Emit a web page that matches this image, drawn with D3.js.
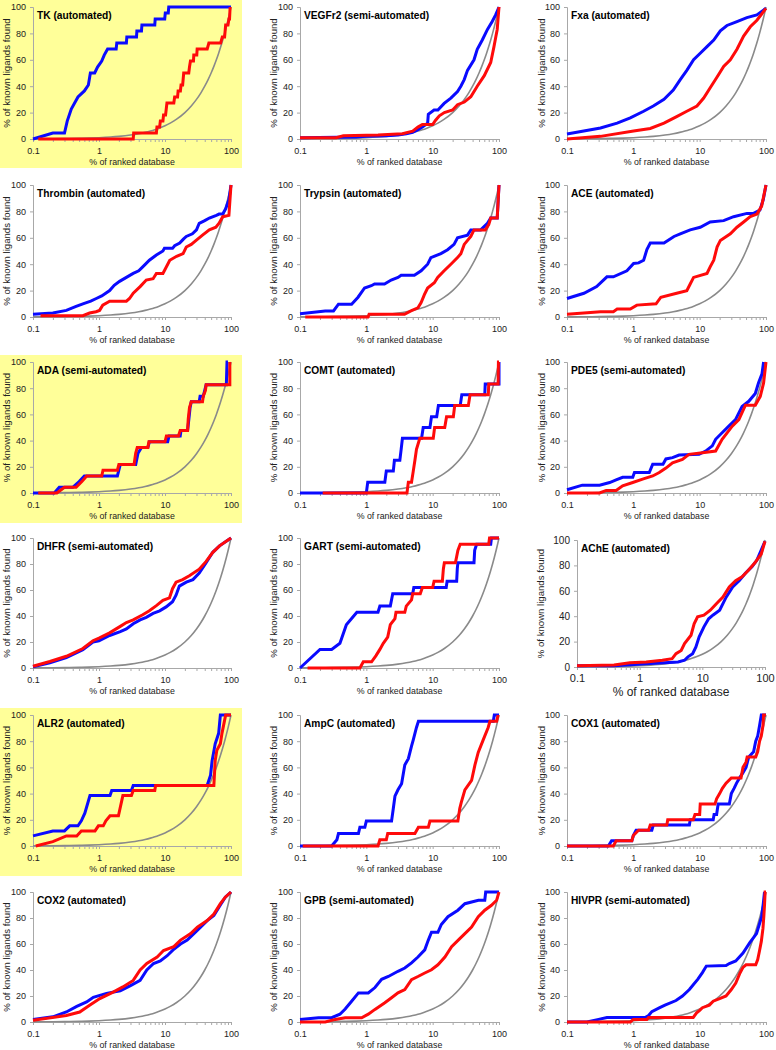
<!DOCTYPE html>
<html><head><meta charset="utf-8">
<script src="https://cdn.jsdelivr.net/npm/d3@7"></script>
<style>body{margin:0;background:#fff} svg{display:block}</style>
</head><body><svg id="chart" width="776" height="1050"></svg>
<script>
// ---------- data ----------
const titles = ["TK (automated)","VEGFr2 (semi-automated)","Fxa (automated)",
 "Thrombin (automated)","Trypsin (automated)","ACE (automated)",
 "ADA (semi-automated)","COMT (automated)","PDE5 (semi-automated)",
 "DHFR (semi-automated)","GART (semi-automated)","AChE (automated)",
 "ALR2 (automated)","AmpC (automated)","COX1 (automated)",
 "COX2 (automated)","GPB (semi-automated)","HIVPR (semi-automated)"];
const highlighted = ["TK (automated)","ADA (semi-automated)","ALR2 (automated)"];
const xTickValues = [0.1,1,10,100];
const xTickLabels = ["0.1","1","10","100"];
const yTickValues = [0,20,40,60,80,100];
const xLabel = "% of ranked database";
const yLabel = "% of known ligands found";

// random (gray) reference curve
const randomX = [0.1,0.15,0.2,0.3,0.5,0.7,1,1.5,2,3,4,5,6,7,8,10,12,15,20,25,30,35,40,45,50,55,60,65,70,75,80,85,90,95,100];
const randomY = [0.1,0.15,0.2,0.3,0.5,0.7,1,1.5,2,3,4,5,6,7,8,10,12,15,20,25,30,35,40,45,50,55,60,65,70,75,80,85,90,95,100];

const tkBlue = [[0.1,0],[0.2,4.5],[0.3,4.5],[0.33,13.6],[0.38,22.7],[0.48,31.8],[0.6,36.4],[0.69,40.9],[0.74,50],[0.86,50],[0.95,54.5],[1.1,59.1],[1.2,63.6],[1.35,68.2],[1.82,68.2],[1.86,72.7],[2.6,72.7],[2.64,77.3],[3.7,77.3],[3.75,81.8],[4.4,81.8],[4.47,86.4],[7.0,86.4],[7.1,90.9],[9.9,90.9],[10.1,95.5],[11.2,95.5],[11.4,100],[100,100]];
const tkRed = [[0.12,0],[3.3,0],[3.35,4.5],[7.4,4.5],[7.55,9.1],[8.3,9.1],[8.5,13.6],[9.3,13.6],[9.5,18.2],[10.2,18.2],[10.7,27.3],[13.6,27.3],[14,31.8],[15.5,31.8],[15.8,36.4],[17.1,36.4],[17.5,40.9],[18.5,40.9],[19.2,50],[22.9,50],[23.5,54.5],[24.3,59.1],[27,59.1],[27.3,63.6],[30.3,63.6],[30.7,68.2],[43.6,68.2],[46.2,72.7],[69.6,72.7],[73.8,77.3],[80,77.3],[83,86.4],[90,86.4],[93,90.9],[95,90.9],[97,100]];

const vegfBlue = [[0.1,1],[0.7,1.5],[1,2],[2,2.5],[3,3],[4,4],[5,5],[6,7],[7,9],[8.4,12],[8.6,18.8],[10.5,22],[12,22],[14.9,27],[18.8,31],[23.7,36],[26.6,40],[29.9,45],[33.5,52],[42,60],[47,68],[56,75],[67,83],[79,89],[89,94],[100,100]];
const vegfRed = [[0.1,1],[0.35,1],[0.45,2.5],[1.5,3],[3.5,4],[5,6],[6,9],[7,11],[10,11],[11,14],[12.6,17.6],[15,20],[20,22],[23.7,26],[30,28],[37.6,32],[47,40],[60,48],[75,58],[84,70],[90,78],[94,83],[100,100]];

const fxaBlue = [[0.1,3.8],[0.32,8.3],[0.57,12],[0.9,16],[1.43,21],[2,25],[2.9,30],[4,37],[5.1,45],[6.4,52],[8.1,60],[10.2,65],[12.9,70],[16.3,75],[20.5,82],[25.8,86],[36.5,89],[51.5,92],[72.8,94],[100,99]];
const fxaRed = [[0.1,0],[0.32,2],[1.01,6],[1.8,8],[2.9,12],[4.5,17],[6.4,21],[9.1,25],[11.5,31],[14.5,39],[18.3,47],[23,55],[29,60],[36.5,68],[46,78],[58,85],[73,90],[100,99]];

const thrombinBlue = [[0.1,2],[0.2,3],[0.32,5],[0.45,8],[0.57,10],[0.75,12],[0.91,14],[1.1,16],[1.45,20],[1.7,24],[2.05,27],[2.6,30],[3.3,33],[4,35],[4.6,38],[5.8,43],[7.4,47],[9.3,50],[9.8,52],[13,52],[14,54],[16.7,56],[19,59],[21,61],[26,63],[30,66],[33,71],[40,73],[47,75],[60,77],[66,78],[75,78],[83,82],[93,89],[100,100]];
const thrombinRed = [[0.13,1],[0.57,1],[0.72,3],[0.9,4],[1.02,5],[1.14,9],[1.45,12],[2.6,12],[2.9,14],[3.3,18],[4.2,23],[5.2,28],[6.6,29],[7.4,33],[9.3,33],[10,36],[11.8,43],[15,46],[18.8,48],[21,53],[25,55],[29.6,58],[37,62],[47,66],[59,68],[66,71],[75,76],[93,77],[100,100]];

const trypsinBlue = [[0.1,2.5],[0.24,4.6],[0.32,4.6],[0.38,9.7],[0.6,9.7],[0.75,15],[0.94,22],[1.19,23.7],[1.33,25],[1.88,25],[2.37,28],[3,30],[3.35,31.6],[5.3,31.6],[6.7,35],[8.4,40],[9.4,45],[13.3,48],[16.8,51],[21,55],[23.7,60],[33.5,62],[37.6,66],[53,66],[67,71],[75,75],[94,75],[100,100]];
const trypsinRed = [[0.12,0],[1.06,0],[1.1,2],[3.76,2],[4.7,4.6],[6,7],[6.7,11],[7.5,17],[8.4,22],[10.6,26],[11.9,30],[14.9,35],[18.8,40],[23.7,45],[26.6,48],[29.9,55],[37.6,61],[42,66],[62,66],[70,70],[75,75],[94,75],[100,100]];

const aceBlue = [[0.1,14],[0.18,18],[0.28,23],[0.4,30.4],[0.5,30.4],[0.8,35],[1.01,40.5],[1.2,41],[1.43,43],[1.6,51],[1.8,56],[2.9,56],[4.1,61],[5.1,63],[7.2,66],[10.2,68],[14.4,72],[23,73],[32.5,76],[51.6,78.5],[65,78.5],[81,81],[91,89],[100,100]];
const aceRed = [[0.1,2],[0.32,4],[0.5,4],[0.57,6],[0.9,6],[1.13,9],[2.2,10],[2.6,15],[4.5,18],[6.4,20],[7.2,25],[8.1,30],[12.9,33],[14.4,38],[16.3,43],[18.3,53],[20.5,58],[29,63],[36.5,68],[46,72],[58,76],[73,78],[86,84],[100,100]];

const adaBlue = [[0.1,0],[0.21,0],[0.25,4.3],[0.4,4.3],[0.5,8.7],[0.6,13],[1.9,13],[2.0,17.4],[2.1,21.7],[3.6,21.7],[3.9,30.4],[4.4,34.8],[5.5,34.8],[5.8,39.1],[11,39.1],[11.5,43.5],[17,43.5],[17.5,47.8],[22,47.8],[23,56.5],[24,65.2],[25,69.6],[33,69.6],[34,73.9],[38,73.9],[40,78.3],[42,82.6],[85,82.6],[87,100],[90,100]];
const adaRed = [[0.12,0],[0.23,0],[0.3,4.3],[0.45,4.3],[0.55,8.7],[0.65,13],[1.1,13],[1.15,17.4],[1.9,17.4],[2.0,21.7],[3.4,21.7],[3.6,30.4],[3.8,34.8],[5.5,34.8],[5.7,39.1],[10,39.1],[10.5,43.5],[16,43.5],[17,47.8],[22,47.8],[22.5,56.5],[23.5,65.2],[25,69.6],[37,69.6],[38,73.9],[41,78.3],[42,82.6],[96,82.6],[96,100]];

const comtBlue = [[0.1,0],[1.0,0],[1.05,8.3],[1.9,8.3],[2.0,16.7],[2.55,16.7],[2.65,25],[3.2,25],[3.35,33.3],[3.5,41.7],[6.8,41.7],[7.2,50],[9.1,50],[9.6,58.3],[11.5,58.3],[12.2,66.7],[26,66.7],[27.5,75],[61,75],[62,83.3],[100,83.3],[100,100]];
const comtRed = [[0.22,0],[4.1,0],[4.3,8.3],[4.8,8.3],[5.1,16.7],[5.4,25],[5.7,33.3],[6.4,41.7],[10.2,41.7],[10.7,50],[15.2,50],[16.2,58.3],[20.5,58.3],[21.5,66.7],[34.5,66.7],[36.6,75],[69,75],[70,83.3],[97,83.3],[98,100],[100,100]];

const pde5Blue = [[0.1,2.5],[0.17,6],[0.31,6],[0.44,8],[0.55,10],[0.69,12],[0.98,12],[1.04,15.6],[1.74,15.6],[1.96,22],[2.8,22],[3.1,26],[3.9,27],[4.9,29],[9.8,29.5],[12.3,32],[15.5,36],[17.4,41],[21.8,46],[27.5,51],[34.7,56],[43.6,66],[55,70],[69,76],[77,84],[87,91],[92,100]];
const pde5Red = [[0.1,0],[0.31,0],[0.39,2],[0.55,2],[0.69,5.5],[0.98,8],[1.38,10.6],[1.96,13],[2.46,15.6],[3.1,19],[3.9,23],[5.5,25.7],[6.9,29.5],[11,30.7],[17.4,32],[21.8,41],[31,51],[39,56],[49,67],[69,67],[82,73.8],[92,84],[100,100]];

const dhfrBlue = [[0.1,1],[0.18,4],[0.32,8],[0.57,14],[0.81,20],[1.0,21],[1.45,25],[2.1,28],[2.6,30],[3.3,34],[4.2,37],[5.2,39],[6.6,42],[8.3,44],[10.4,47],[13,51],[14.7,56],[16.5,63],[21,66],[26.5,68],[33,73],[42,81],[53,89],[67,94],[100,100]];
const dhfrRed = [[0.1,1.3],[0.18,5],[0.32,9],[0.57,15],[0.81,21],[1.0,23],[1.45,27],[2.1,32],[2.6,35],[3.3,37],[4.6,41],[5.8,44],[7.4,48],[9.3,52],[11.7,54],[13,61],[14.7,66],[18.5,68],[23.4,71],[33,76],[42,82],[53,89],[67,94],[100,100]];

const gartBlue = [[0.1,0],[0.2,14.3],[0.3,14.3],[0.4,19],[0.5,33.3],[0.6,38],[0.72,42.9],[1.5,42.9],[1.6,47.6],[2.3,47.6],[2.5,57.1],[5.0,57.1],[5.2,61.9],[16,61.9],[16.5,66.7],[23,66.7],[23.5,76.2],[24,81],[42,81],[43,90.5],[46,95.2],[75,95.2],[77,100],[100,100]];
const gartRed = [[0.13,0],[0.8,0],[0.9,4.8],[1.2,4.8],[1.4,9.5],[1.6,14.3],[1.8,19],[2.1,23.8],[2.3,33.3],[2.7,38],[2.8,42.9],[3.8,42.9],[4.0,47.6],[4.8,52.4],[5.0,57.1],[6.5,57.1],[7.0,61.9],[10,61.9],[10.5,66.7],[14,66.7],[14.5,76.2],[15,81],[22,81],[23,85.7],[24,90.5],[26,95.2],[70,95.2],[72,100],[100,100]];

const acheBlue = [[0.1,1],[0.39,1],[1.27,2.6],[4.1,4],[5.2,5.3],[5.9,8],[7,10.5],[7.9,15.8],[8.9,23.7],[10.6,31.6],[12.6,38],[14.9,41],[18.9,44.7],[24,55],[30.5,63],[38.7,68],[49,74],[62,79],[74,84],[87,92],[100,99]];
const acheRed = [[0.1,1],[0.39,1.5],[0.7,3.4],[1.27,4],[2.3,5.3],[3.3,6.6],[3.8,10.5],[4.6,13],[5.2,18.4],[6.6,25],[7.4,34],[8.4,39.5],[10.6,40.8],[13.4,44.7],[16.9,50],[21.3,55],[26.9,63],[34,68],[43,71],[54,76],[69,82],[87,89],[100,99]];

const alr2Blue = [[0.1,7.7],[0.2,11.5],[0.3,11.5],[0.36,15.4],[0.48,15.4],[0.54,19.2],[0.61,25],[0.73,38.5],[1.47,38.5],[1.56,42.3],[3.1,42.3],[3.3,46.2],[43.5,46.2],[49,54],[51.7,65],[57.6,78],[65,86],[69,100],[100,100]];
const alr2Red = [[0.11,0],[0.2,3.3],[0.32,7.7],[0.46,7.7],[0.54,11.5],[0.87,11.5],[0.98,15.4],[1.16,15.4],[1.27,19.2],[1.47,23.1],[1.97,23.1],[2.3,38.5],[3.1,38.5],[3.3,42.3],[7,42.3],[7.2,46.2],[55,46.2],[57.6,65],[61,73],[69,78],[73,86],[83,100],[100,100]];

const ampcBlue = [[0.1,0],[0.3,0],[0.36,4.8],[0.38,9.5],[0.76,9.5],[0.8,14.3],[0.95,14.3],[1.0,19],[2.4,19],[2.55,28.6],[2.7,38],[3.0,42.9],[3.4,47.6],[3.8,61.9],[4.3,66.7],[4.8,76.2],[5.1,81],[5.7,90.5],[6.1,95.2],[82,95.2],[85,100],[100,100]];
const ampcRed = [[0.11,0],[1.5,0],[1.6,4.8],[2.0,4.8],[2.1,9.5],[5.4,9.5],[6.1,14.3],[8.6,14.3],[9.1,19],[24,19],[25.6,28.6],[27,33.3],[30.6,42.9],[38.6,50],[43.4,61.9],[48.6,71.4],[57.8,81],[68.7,90.5],[73,95.2],[92,95.2],[97,100]];

const cox1Blue = [[0.1,0],[0.42,0],[0.47,4],[0.95,4],[1.0,8],[1.1,12],[1.9,12],[2.0,16],[7,16],[7.2,20],[16,20],[16.5,24],[18,24],[19,32],[28,32],[30,40],[33,44],[36,48],[40,52],[45,56],[50,60],[55,68],[65,72],[70,80],[75,84],[80,92],[85,100],[100,100]];
const cox1Red = [[0.1,0],[0.5,0],[0.55,4],[0.95,4],[1.0,8],[1.2,12],[1.7,12],[1.8,16],[3.2,16],[3.3,20],[8,20],[8.5,24],[10,24],[10.2,32],[17,32],[18,36],[20,40],[22,44],[25,48],[30,52],[42,52],[45,60],[50,64],[52,68],[70,68],[75,72],[80,80],[85,84],[90,92],[92,100],[100,100]];

const cox2Blue = [[0.1,2],[0.2,4],[0.32,7.7],[0.46,12],[0.65,15.4],[0.82,19],[1.3,22],[2.1,24],[3,28],[4.2,32],[5.3,40],[6.7,45],[8.5,47],[10.8,51],[13.6,56],[17.2,60],[21.7,63],[27.4,68],[34.6,73],[43.6,78],[55,82],[69,90],[82,96],[100,100]];
const cox2Red = [[0.1,1.3],[0.32,5],[0.51,7.7],[0.73,13],[1.03,18],[1.64,23],[2.3,27],[3.3,32],[4.2,40],[5.3,45],[7.6,50],[9.5,55],[13.6,58],[17.2,63],[24.5,68],[30.9,73],[43.6,78],[55,83],[69,91],[82,96],[100,100]];

const gpbBlue = [[0.1,2],[0.19,3.3],[0.3,3.3],[0.4,6],[0.48,10],[0.6,16],[0.76,22.4],[1.07,22.4],[1.35,26.5],[1.7,32.8],[2.15,35],[3,39],[3.8,41.5],[4.8,45.5],[6,50],[7.6,55.5],[8.6,63],[9.6,69],[12,69],[13.5,75],[17,81],[24,86],[30.6,91],[49,93.6],[61,93.6],[63,100],[100,100]];
const gpbRed = [[0.1,0],[0.24,0],[0.34,2],[0.48,3.3],[0.85,3.3],[1.07,6],[1.35,9.7],[1.9,14.8],[2.4,18.6],[3,22.4],[3.8,25],[4.8,32.6],[6,35],[7.6,37.7],[9.6,40.2],[12,44],[15.3,50],[19.3,58],[24.3,63],[30.6,68],[38.6,73],[48.7,81],[61,86],[77,89.8],[92,93.6],[100,100]];

const hivprBlue = [[0.1,0],[0.2,0],[0.3,2],[0.4,3.5],[1.5,3.5],[1.7,5],[1.9,8],[2.5,11],[3,13],[4.4,16.5],[5.5,20],[7,25],[9.4,33],[11,38],[12.6,43],[25,43.5],[28,45],[35,47],[45,53],[57,61],[72,68],[86,81],[91,91],[95,100]];
const hivprRed = [[0.1,0],[0.9,0],[1,2],[1.6,2],[1.7,3.5],[8,3.5],[9,7],[10,9],[11,11],[14,13],[16,16],[20,18],[25,20],[30,25],[35,30],[40,37],[45,42],[50,44],[70,44],[75,48],[80,55],[85,62],[90,72],[93,82],[95,90],[97,100],[100,100]];

const blueSeries = [tkBlue,vegfBlue,fxaBlue,thrombinBlue,trypsinBlue,aceBlue,adaBlue,comtBlue,pde5Blue,dhfrBlue,gartBlue,acheBlue,alr2Blue,ampcBlue,cox1Blue,cox2Blue,gpbBlue,hivprBlue];
const redSeries = [tkRed,vegfRed,fxaRed,thrombinRed,trypsinRed,aceRed,adaRed,comtRed,pde5Red,dhfrRed,gartRed,acheRed,alr2Red,ampcRed,cox1Red,cox2Red,gpbRed,hivprRed];

// ---------- layout ----------
const colL = [33,300,567], colR = [231,499,766];
const rowT = [7,185,362,538,715,892], rowB = [139,317,493,668,846,1022];
const FONT = "Arial, 'Liberation Sans', Helvetica, sans-serif";

const svg = d3.select("#chart");
svg.append("rect").attr("width",776).attr("height",1050).attr("fill","#fff");

const randomPts = randomX.map((x,i)=>[x, randomY[i]]);
const minorTicks = [];
[0.1,1,10].forEach(d=>{ for(let k=1;k<10;k++) minorTicks.push(d*k); });
minorTicks.push(100);

titles.forEach((title,i)=>{
  const r = Math.floor(i/3), c = i%3;
  let g = {l:colL[c], r:colR[c], t:rowT[r], b:rowB[r], tick:9, xt:8.8, big:false, yt:26};
  if (title.startsWith("AChE")) g = {l:577, r:765, t:540, b:667, tick:11, xt:12, big:true, yt:36};
  if (c===2 && !g.big) g.yt = 25;

  if (highlighted.includes(title)) {
    svg.append("rect").attr("x",0).attr("y",g.t-7).attr("width",242).attr("height",168)
      .attr("fill","#ffff99");
  }
  const x = d3.scaleLog().domain([0.1,100]).range([g.l,g.r]);
  const y = d3.scaleLinear().domain([0,100]).range([g.b,g.t]);
  const P = svg.append("g");

  // x axis
  const xa = P.append("g").attr("transform",`translate(0,${g.b})`)
    .call(d3.axisBottom(x).tickValues(minorTicks).tickSizeOuter(0).tickSize(3)
      .tickPadding(g.big?4:6)
      .tickFormat(d=>{const k = xTickValues.findIndex(v=>Math.abs(v-d)<1e-9); return k>=0?xTickLabels[k]:"";}));
  xa.select(".domain").attr("stroke","#a8a8a8");
  xa.selectAll(".tick line").attr("stroke","#a8a8a8");
  xa.selectAll("text").attr("font-family",FONT).attr("font-size",g.tick).attr("fill","#222");

  // y axis
  const ya = P.append("g").attr("transform",`translate(${g.l},0)`)
    .call(d3.axisLeft(y).tickValues(yTickValues).tickSizeOuter(0).tickSize(3).tickPadding(4));
  ya.select(".domain").attr("stroke","#a8a8a8");
  ya.selectAll(".tick line").attr("stroke","#a8a8a8");
  ya.selectAll("text").attr("font-family",FONT).attr("font-size",g.big?10:9).attr("fill","#222");

  // axis titles
  P.append("text").attr("x",(g.l+g.r)/2).attr("y",g.b+(g.big?29:26))
    .attr("text-anchor","middle").attr("font-family",FONT).attr("font-size",g.xt).attr("fill","#222")
    .text(xLabel);
  P.append("text").attr("transform",`translate(${g.l-g.yt},${(g.t+g.b)/2}) rotate(-90)`)
    .attr("text-anchor","middle").attr("dy","0.35em").attr("font-family",FONT).attr("font-size",9.6).attr("fill","#222")
    .text(yLabel);

  const line = d3.line().x(d=>x(d[0])).y(d=>y(d[1]));
  P.append("path").attr("d",d3.line().x(d=>x(d[0])).y(d=>y(d[1])).curve(d3.curveMonotoneX)(randomPts))
    .attr("fill","none").attr("stroke","#8a8a8a").attr("stroke-width",1.6);
  P.append("path").attr("d",line(blueSeries[i])).attr("fill","none").attr("stroke","#0a0aff")
    .attr("stroke-width",3).attr("stroke-linejoin","miter");
  P.append("path").attr("d",line(redSeries[i])).attr("fill","none").attr("stroke","#ff0a0a")
    .attr("stroke-width",3).attr("stroke-linejoin","miter");

  // panel title
  P.append("text").attr("x",g.l+4).attr("y",g.t+12).attr("font-family",FONT)
    .attr("font-weight","bold").attr("font-size",10.2).attr("fill","#000").text(title);
});
</script></body></html>
